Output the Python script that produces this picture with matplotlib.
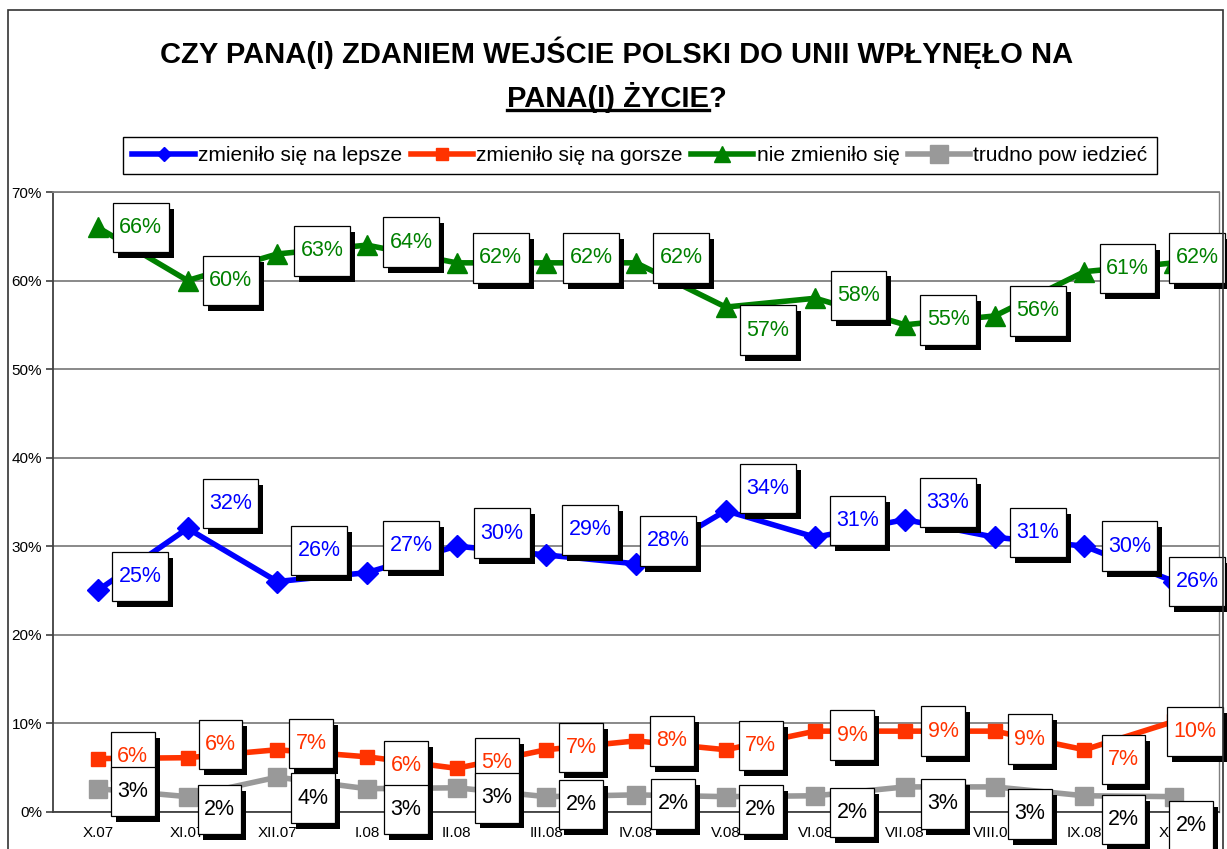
import matplotlib
matplotlib.use('Agg')
import matplotlib.pyplot as plt
import matplotlib.patheffects as pe
from matplotlib.path import Path
from matplotlib.lines import Line2D
from matplotlib.patches import Rectangle

plt.rcParams['font.family'] = ['Liberation Sans', 'DejaVu Sans']

# data (percent)
months = ['X.07', 'XI.07', 'XII.07', 'I.08', 'II.08', 'III.08', 'IV.08',
          'V.08', 'VI.08', 'VII.08', 'VIII.08', 'IX.08', 'X.08']
better = [25, 32, 26, 27, 30, 29, 28, 34, 31, 33, 31, 30, 26]
worse = [6.0, 6.1, 7.0, 6.2, 4.9, 7.0, 8.0, 7.0, 9.1, 9.1, 9.1, 7.0, 10.2]
same = [66, 60, 63, 64, 62, 62, 62, 57, 58, 55, 56, 61, 62]
hard = [2.6, 1.7, 3.9, 2.6, 2.7, 1.7, 1.9, 1.7, 1.8, 2.8, 2.8, 1.8, 1.7]
names = ['zmieniło się na lepsze', 'zmieniło się na gorsze',
         'nie zmieniło się', 'trudno pow iedzieć']

# label box offsets from the point, in pixels (dx, dy up)
better_off = [(42, 14), (43, 25), (42, 31), (44, 27), (45, 13), (44, 25), (32, 23),
              (42, 22), (42, 17), (43, 17), (43, 5), (45, 0), (23, 0)]
worse_off = [(35, 2), (33, 13), (34, 6), (39, -9), (40, 6), (35, 2), (36, 0),
             (35, 4), (37, -4), (38, 0), (35, -8), (39, -10), (21, -10)]
same_off = [(43, 0), (43, 0), (45, 3), (44, 3), (44, 5), (45, 5), (45, 5),
            (42, -23), (43, 3), (43, 5), (43, 5), (43, 3), (23, 5)]
hard_off = [(35, -3), (32, -13), (36, -21), (39, -21), (40, -10), (35, -8), (37, -9),
            (35, -13), (37, -17), (38, -17), (35, -27), (39, -24), (17, -29)]


class LabelBox:
    # plain rectangle, wider vertical padding than horizontal
    def __call__(self, x0, y0, width, height, mutation_size):
        px = 0.3 * mutation_size
        py = 0.66 * mutation_size
        x0, y0 = x0 - px, y0 - py
        x1, y1 = x0 + width + 2 * px, y0 + height + 2 * py
        return Path([(x0, y0), (x1, y0), (x1, y1), (x0, y1), (x0, y0)], closed=True)


fig = plt.figure(figsize=(12.27, 8.49), dpi=100)
ax = fig.add_axes([53 / 1227, (849 - 811.7) / 849, (1219 - 53) / 1227, (811.7 - 192) / 849])

x = list(range(len(months)))
series = [
    (better, '#0000FF', 'D', 11, '#0000FF', better_off, 7),
    (worse, '#FF3300', 's', 10, '#FF3300', worse_off, 9),
    (same, '#008000', '^', 15, '#008000', same_off, 11),
    (hard, '#999999', 's', 13, 'black', hard_off, 13),
]

handles = []
for k, (vals, col, mk, ms, tcol, offs, lms) in enumerate(series):
    ax.plot(x, vals, color=col, lw=4, marker=mk, ms=ms, mec=col, mfc=col,
            zorder=3, clip_on=False)
    handles.append(Line2D([], [], color=col, lw=4, marker=mk, ms=lms, mec=col, mfc=col))
    for i, v in enumerate(vals):
        ann = ax.annotate(f'{round(v)}%', (i, v), xytext=offs[i], textcoords='offset pixels',
                          ha='center', va='center', fontsize=15.5, color=tcol,
                          bbox=dict(boxstyle=LabelBox(), fc='white', ec='black', lw=0.9),
                          zorder=10 + k, annotation_clip=False)
        ann.get_bbox_patch().set_path_effects(
            [pe.SimplePatchShadow(offset=(3.6, -4.3), shadow_rgbFace='black', alpha=1.0),
             pe.Normal()])

ax.set_xlim(-0.5, 12.5)
ax.set_ylim(0, 70)
ax.set_xticks(x, months)
ax.set_yticks(range(0, 71, 10), [f'{v}%' for v in range(0, 71, 10)])
ax.tick_params(axis='x', length=0, pad=10, labelsize=11)
ax.tick_params(axis='y', length=5, width=1.2, color='#404040', pad=3, labelsize=11)
ax.yaxis.grid(True, color='#808080', lw=1.3)
ax.set_axisbelow(True)
for s in ['left', 'bottom']:
    ax.spines[s].set_color('#404040')
    ax.spines[s].set_linewidth(1.3)
ax.spines['top'].set_color('#808080')
ax.spines['top'].set_linewidth(1.3)
ax.spines['right'].set_color('#808080')
ax.spines['right'].set_linewidth(1)

leg = fig.legend(handles, names, loc='center', bbox_to_anchor=(640 / 1227, 1 - 155.5 / 849),
                 ncol=4, fontsize=15, frameon=True, fancybox=False, edgecolor='black',
                 handlelength=3.0, handletextpad=0.15, columnspacing=0.4,
                 borderpad=0.45, borderaxespad=0, framealpha=1)
leg.get_frame().set_linewidth(1)

# outer chart border
fig.add_artist(Rectangle((8 / 1227, -0.05), (1223 - 8) / 1227, 1.05 - 10 / 849,
                         transform=fig.transFigure, fill=False, ec='#333333', lw=1.2))

# title, second line partly underlined
tx = 617 / 1227
fig.text(tx, 1 - 63 / 849, 'CZY PANA(I) ZDANIEM WEJŚCIE POLSKI DO UNII WPŁYNĘŁO NA',
         ha='center', va='baseline', fontsize=21, fontweight='bold')
t2 = fig.text(tx, 1 - 107 / 849, 'PANA(I) ŻYCIE?', ha='center', va='baseline',
              fontsize=21, fontweight='bold')
fig.canvas.draw()
r = fig.canvas.get_renderer()
bb = t2.get_window_extent(r)
q = fig.text(0, 0, '?', fontsize=21, fontweight='bold')
qw = q.get_window_extent(r).width
q.remove()
uy = (849 - 110) / 849
fig.add_artist(Line2D([bb.x0 / 1227, (bb.x1 - qw) / 1227], [uy, uy],
                      transform=fig.transFigure, color='black', lw=2.4))

fig.savefig('out.png', dpi=100)
